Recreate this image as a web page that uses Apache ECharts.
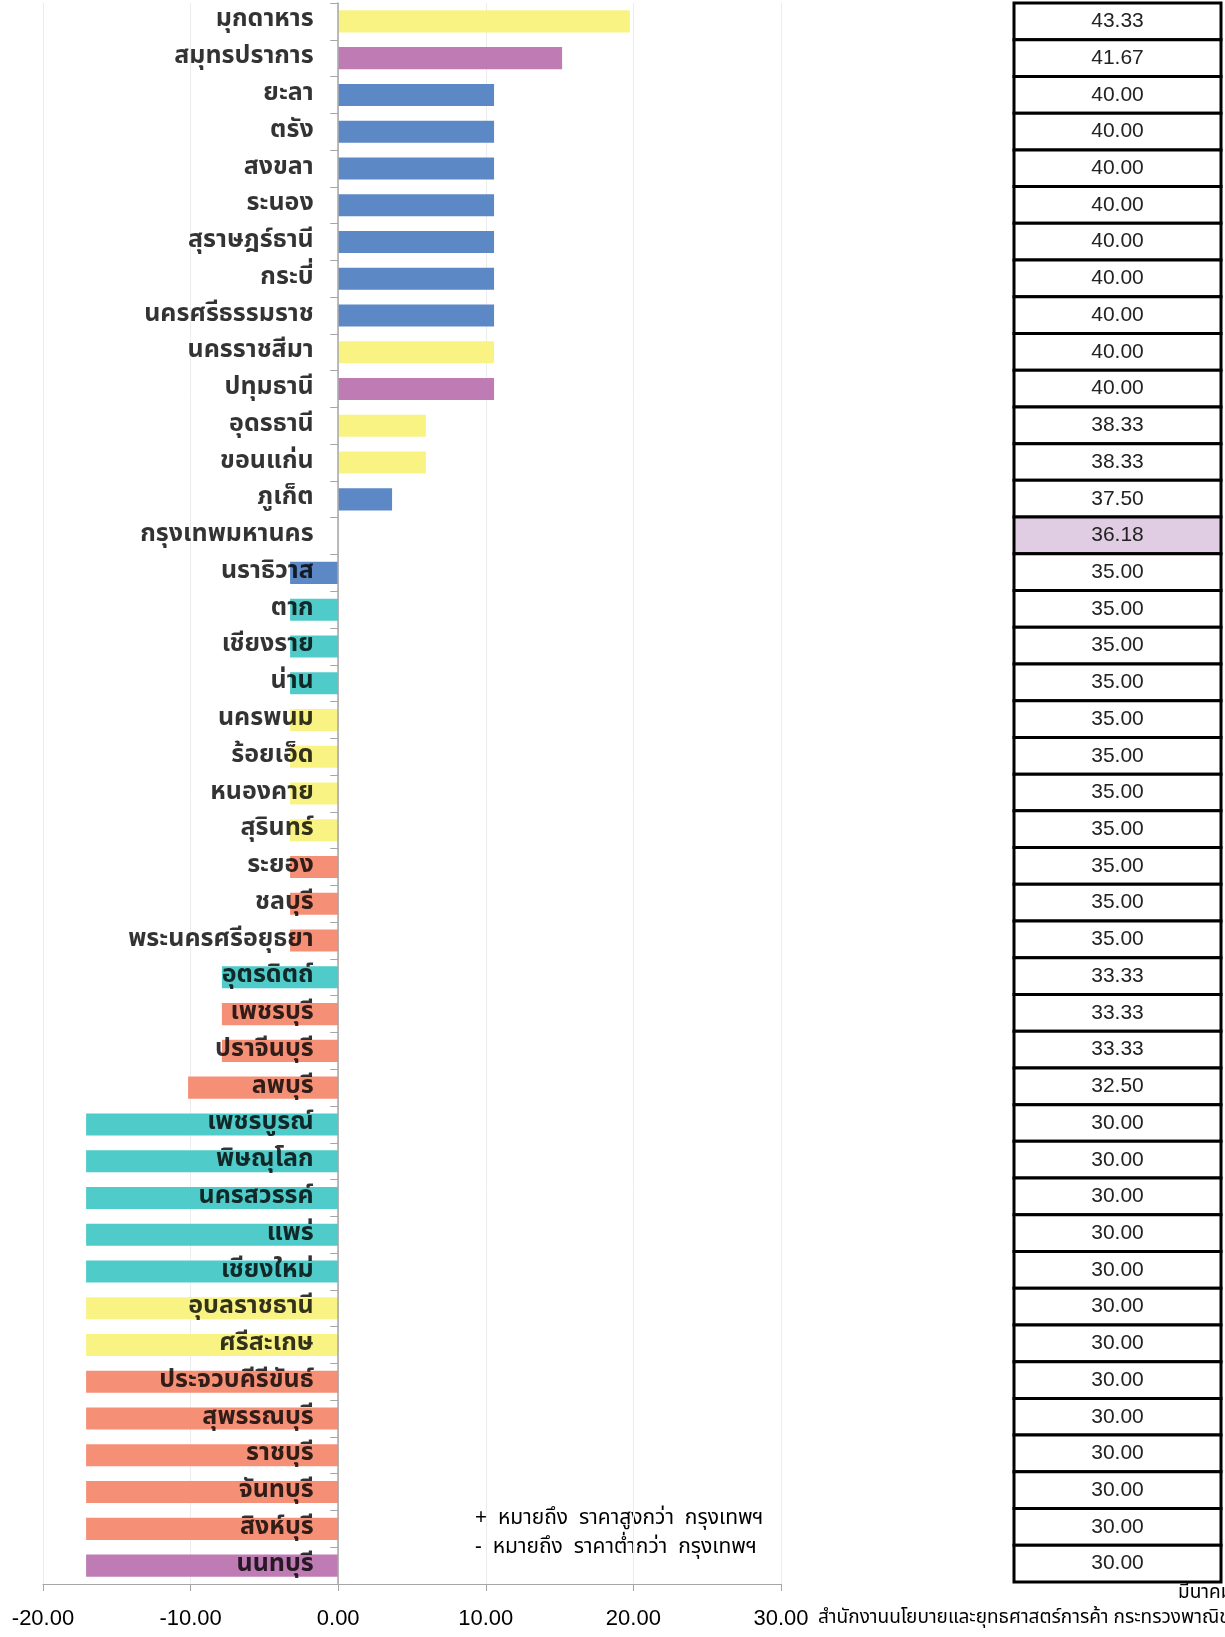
<!DOCTYPE html>
<html><head><meta charset="utf-8">
<script src="https://cdn.jsdelivr.net/npm/echarts@6/dist/echarts.min.js"></script>
<style>html,body{margin:0;padding:0;background:#fff}#c{width:1225px;height:1637px}</style>
</head><body><div id="c"></div>
<script>
const provinces = ["มุกดาหาร","สมุทรปราการ","ยะลา","ตรัง","สงขลา","ระนอง","สุราษฎร์ธานี","กระบี่","นครศรีธรรมราช","นครราชสีมา","ปทุมธานี","อุดรธานี","ขอนแก่น","ภูเก็ต","กรุงเทพมหานคร","นราธิวาส","ตาก","เชียงราย","น่าน","นครพนม","ร้อยเอ็ด","หนองคาย","สุรินทร์","ระยอง","ชลบุรี","พระนครศรีอยุธยา","อุตรดิตถ์","เพชรบุรี","ปราจีนบุรี","ลพบุรี","เพชรบูรณ์","พิษณุโลก","นครสวรรค์","แพร่","เชียงใหม่","อุบลราชธานี","ศรีสะเกษ","ประจวบคีรีขันธ์","สุพรรณบุรี","ราชบุรี","จันทบุรี","สิงห์บุรี","นนทบุรี"];
const prices = [43.33,41.67,40.00,40.00,40.00,40.00,40.00,40.00,40.00,40.00,40.00,38.33,38.33,37.50,36.18,35.00,35.00,35.00,35.00,35.00,35.00,35.00,35.00,35.00,35.00,35.00,33.33,33.33,33.33,32.50,30.00,30.00,30.00,30.00,30.00,30.00,30.00,30.00,30.00,30.00,30.00,30.00,30.00];
const diffPct = [19.76,15.17,10.56,10.56,10.56,10.56,10.56,10.56,10.56,10.56,10.56,5.94,5.94,3.65,0,-3.26,-3.26,-3.26,-3.26,-3.26,-3.26,-3.26,-3.26,-3.26,-3.26,-3.26,-7.88,-7.88,-7.88,-10.17,-17.08,-17.08,-17.08,-17.08,-17.08,-17.08,-17.08,-17.08,-17.08,-17.08,-17.08,-17.08,-17.08];
const regions = ["NE","VIC","S","S","S","S","S","S","S","NE","VIC","NE","NE","S","BKK","S","N","N","N","NE","NE","NE","NE","C","C","C","N","C","C","C","N","N","N","N","N","NE","NE","C","C","C","C","C","VIC"];
const xTicks = [-20,-10,0,10,20,30];
const legendNotes = ["+  หมายถึง  ราคาสูงกว่า  กรุงเทพฯ","-  หมายถึง  ราคาต่ำกว่า  กรุงเทพฯ"];
const monthText = "มีนาคม";
const sourceText = "สำนักงานนโยบายและยุทธศาสตร์การค้า กระทรวงพาณิชย์";

const regionColors = {NE:"#F9F384", VIC:"#BE7BB4", S:"#5C88C6", N:"#4FCBC9", C:"#F58F76", BKK:"#ffffff"};
const thaiFont = '"Noto Sans Thai","Noto Sans","Tahoma",sans-serif';

const chart = echarts.init(document.getElementById('c'));
chart.setOption({
  animation:false,
  grid:[
    {left:43, right:444, top:3, bottom:53, containLabel:false, outerBoundsMode:'none'},
    {left:1014, right:4, top:3, bottom:55, containLabel:false, outerBoundsMode:'none'}
  ],
  xAxis:[
    {gridIndex:0, type:'value', min:-20, max:30, interval:10,
     axisLine:{show:true, onZero:false, lineStyle:{color:'#a6a6a6'}},
     axisTick:{show:true, length:7, lineStyle:{color:'#a6a6a6'}},
     splitLine:{show:true, lineStyle:{color:'#ececec'}},
     axisLabel:{fontSize:22, color:'#000', margin:24, fontFamily:'"Liberation Sans","Noto Sans",sans-serif',
       formatter:v=>v.toFixed(2)}},
    {gridIndex:1, type:'value', min:0, max:1, show:false}
  ],
  yAxis:[
    {gridIndex:0, type:'category', data:provinces, inverse:true, z:10,
     axisLine:{show:true, onZero:true, lineStyle:{color:'#a6a6a6', width:1.5}},
     axisTick:{show:true, length:8, lineStyle:{color:'#a6a6a6'}},
     axisLabel:{show:false}},
    {gridIndex:1, type:'category', data:provinces, inverse:true, show:false}
  ],
  series:[
    {type:'bar', xAxisIndex:0, yAxisIndex:0, barCategoryGap:'40%',
     data:diffPct.map((v,i)=>({value:v, itemStyle:{color:regionColors[regions[i]]}})),
     z:2},
    {type:'scatter', xAxisIndex:0, yAxisIndex:0, z:20, silent:true,
     symbolSize:1, itemStyle:{color:'transparent'},
     data:provinces.map(p=>[0,p]),
     label:{show:true, position:'left', distance:24, fontSize:25, fontWeight:'bold', color:'#000',
       fontFamily:thaiFont, formatter:p=>p.value[1]}},
    {type:'custom', xAxisIndex:1, yAxisIndex:1, silent:true,
     data:prices.map((p,i)=>[0, i, p]),
     renderItem:(params, api)=>{
       const idx = api.value(1);
       const a = api.coord([0, idx]);
       const b = api.coord([1, idx]);
       const h = api.size([1,1])[1];
       const isBkk = regions[idx]==='BKK';
       return {type:'group', children:[
         {type:'rect', shape:{x:a[0], y:a[1]-h/2, width:b[0]-a[0], height:h},
          style:{fill:isBkk?'#E0CCE3':'#ffffff', stroke:'#000', lineWidth:3}},
         {type:'text', x:(a[0]+b[0])/2, y:a[1],
          style:{text:prices[idx].toFixed(2), fill:'#222', align:'center', verticalAlign:'middle',
            font:'21px "Liberation Sans",Arial,sans-serif'}}
       ]};
     }}
  ],
  graphic:[
    {type:'text', left:475, top:1509, style:{text:legendNotes[0], font:'21px '+thaiFont, fill:'#000'}},
    {type:'text', left:475, top:1538, style:{text:legendNotes[1], font:'21px '+thaiFont, fill:'#000'}},
    {type:'text', left:1178, top:1585, style:{text:monthText, font:'19px '+thaiFont, fill:'#000'}},
    {type:'text', left:818, top:1610, style:{text:sourceText, font:'19px '+thaiFont, fill:'#000'}}
  ]
});
</script></body></html>
